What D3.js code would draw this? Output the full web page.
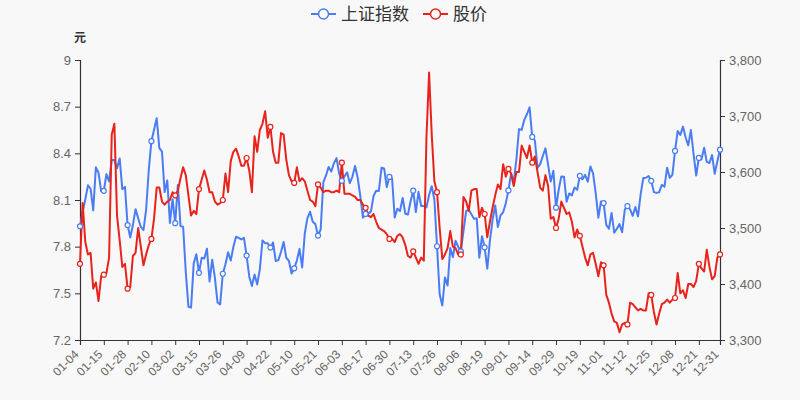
<!DOCTYPE html>
<html>
<head>
<meta charset="utf-8">
<script src="https://cdn.jsdelivr.net/npm/d3@7"></script>
<style>
  html, body { margin: 0; padding: 0; background: #f8f8f8; }
  svg { display: block; }
  text { font-family: "Liberation Sans", Arial, "Noto Sans CJK SC", sans-serif; }
</style>
</head>
<body>
<svg id="chart" width="800" height="400"></svg>
<script>
// ---------------- data ----------------
const dates = [
  "01-04","01-05","01-06","01-07","01-08","01-11","01-12","01-13","01-14","01-15","01-18","01-19","01-20","01-21","01-22","01-25","01-26","01-27","01-28","01-29",
  "02-01","02-02","02-03","02-04","02-05","02-08","02-09","02-10","02-18","02-19","02-22","02-23","02-24","02-25","02-26",
  "03-01","03-02","03-03","03-04","03-05","03-08","03-09","03-10","03-11","03-12","03-15","03-16","03-17","03-18","03-19","03-22","03-23","03-24","03-25","03-26","03-29","03-30","03-31",
  "04-01","04-02","04-06","04-07","04-08","04-09","04-12","04-13","04-14","04-15","04-16","04-19","04-20","04-21","04-22","04-23","04-26","04-27","04-28","04-29","04-30",
  "05-06","05-07","05-10","05-11","05-12","05-13","05-14","05-17","05-18","05-19","05-20","05-21","05-24","05-25","05-26","05-27","05-28","05-31",
  "06-01","06-02","06-03","06-04","06-07","06-08","06-09","06-10","06-11","06-15","06-16","06-17","06-18","06-21","06-22","06-23","06-24","06-25","06-28","06-29","06-30",
  "07-01","07-02","07-05","07-06","07-07","07-08","07-09","07-12","07-13","07-14","07-15","07-16","07-19","07-20","07-21","07-22","07-23","07-26","07-27","07-28","07-29","07-30",
  "08-02","08-03","08-04","08-05","08-06","08-09","08-10","08-11","08-12","08-13","08-16","08-17","08-18","08-19","08-20","08-23","08-24","08-25","08-26","08-27","08-30","08-31",
  "09-01","09-02","09-03","09-06","09-07","09-08","09-09","09-10","09-13","09-14","09-15","09-16","09-17","09-22","09-23","09-24","09-27","09-28","09-29","09-30",
  "10-08","10-11","10-12","10-13","10-14","10-15","10-18","10-19","10-20","10-21","10-22","10-25","10-26","10-27","10-28","10-29",
  "11-01","11-02","11-03","11-04","11-05","11-08","11-09","11-10","11-11","11-12","11-15","11-16","11-17","11-18","11-19","11-22","11-23","11-24","11-25","11-26","11-29","11-30",
  "12-01","12-02","12-03","12-06","12-07","12-08","12-09","12-10","12-13","12-14","12-15","12-16","12-17","12-20","12-21","12-22","12-23","12-24","12-27","12-28","12-29","12-30","12-31"
];

const indexValues = [
  3502.96,3528.68,3550.88,3576.20,3570.11,3531.50,3608.34,3598.65,3565.90,3566.38,3596.22,3583.09,3621.26,3621.39,3606.75,3624.24,3569.43,3573.34,3505.18,3483.07,
  3505.28,3533.68,3517.31,3501.86,3496.33,3532.44,3603.49,3655.09,3675.36,3696.17,3642.44,3636.36,3564.08,3585.05,3509.08,
  3551.40,3508.59,3576.90,3503.49,3501.99,3421.41,3359.29,3357.74,3436.83,3453.08,3419.95,3446.73,3445.55,3463.07,3404.66,3443.44,3411.51,3367.06,3363.59,3418.33,3435.30,3456.68,3441.91,
  3466.33,3484.39,3482.45,3479.63,3482.55,3450.68,3412.95,3396.47,3416.75,3398.99,3426.62,3477.55,3472.94,3472.93,3465.11,3474.17,3441.17,3442.61,3457.07,3474.90,3446.86,
  3441.28,3418.87,3427.99,3441.85,3462.75,3429.54,3490.38,3517.62,3529.01,3510.96,3506.94,3486.56,3497.28,3581.34,3593.36,3608.85,3600.78,3615.48,
  3624.71,3597.14,3584.22,3591.84,3599.54,3580.11,3591.40,3610.86,3589.75,3556.56,3518.33,3525.10,3525.60,3529.18,3557.41,3566.65,3566.22,3607.56,3606.37,3573.18,3591.20,
  3588.78,3518.76,3534.32,3530.26,3553.72,3525.50,3524.09,3547.84,3566.66,3528.50,3564.59,3539.30,3539.12,3536.79,3559.00,3574.73,3550.40,3467.44,3381.18,3361.59,3411.72,3397.36,
  3464.29,3447.99,3477.22,3466.56,3458.23,3494.63,3529.93,3532.62,3524.74,3516.30,3517.34,3446.98,3485.29,3465.55,3427.33,3477.13,3514.47,3540.38,3501.66,3522.16,3528.15,3543.94,
  3567.10,3597.04,3581.73,3621.86,3676.59,3675.19,3693.13,3703.11,3715.37,3662.60,3656.22,3607.09,3613.97,3628.49,3642.22,3613.07,3582.83,3602.22,3536.29,3568.17,
  3592.17,3591.71,3546.94,3561.76,3558.28,3572.37,3568.14,3593.15,3587.00,3594.78,3582.60,3609.86,3597.64,3562.31,3518.42,3547.34,
  3544.48,3505.63,3498.54,3526.87,3491.57,3498.63,3507.00,3492.46,3532.79,3539.10,3533.30,3521.79,3537.37,3520.71,3560.37,3589.09,3589.75,3592.70,3584.18,3564.09,3562.70,3563.89,
  3576.89,3573.84,3607.43,3589.31,3595.09,3637.57,3673.04,3666.35,3681.08,3661.53,3647.63,3675.02,3632.36,3593.60,3625.13,3622.62,3643.34,3618.05,3615.97,3630.11,3597.00,3619.19,3639.78
];

const priceValues = [
  7.69,8.08,7.83,7.75,7.76,7.53,7.57,7.45,7.61,7.62,7.63,7.73,8.52,8.59,8.00,7.84,7.67,7.69,7.53,7.54,
  7.74,7.76,7.92,7.80,7.68,7.75,7.81,7.85,7.98,8.18,8.18,8.09,8.07,8.09,8.10,
  8.15,8.13,8.16,8.24,8.31,8.26,8.13,8.00,8.03,8.01,8.17,8.23,8.29,8.23,8.15,8.15,8.09,8.07,8.08,8.10,8.27,8.15,8.35,
  8.41,8.43,8.38,8.32,8.32,8.37,8.29,8.15,8.51,8.41,8.55,8.59,8.67,8.50,8.57,8.41,8.34,8.34,8.53,8.52,8.36,
  8.26,8.22,8.21,8.31,8.22,8.24,8.22,8.16,8.10,8.09,8.06,8.20,8.18,8.15,8.16,8.16,8.15,8.15,
  8.16,8.15,8.34,8.14,8.14,8.14,8.13,8.12,8.10,8.10,8.07,8.05,8.00,7.99,8.01,7.96,7.92,7.91,7.90,7.88,7.85,
  7.85,7.83,7.87,7.88,7.86,7.81,7.74,7.73,7.77,7.73,7.69,7.73,7.71,8.50,8.92,8.52,8.22,8.15,7.92,7.72,7.75,7.79,
  7.90,7.80,7.79,7.75,7.75,8.12,8.09,8.03,8.16,8.17,8.17,7.99,8.05,8.01,7.86,7.96,8.05,8.13,8.20,8.17,8.33,8.25,
  8.30,8.27,8.19,8.28,8.28,8.45,8.41,8.37,8.45,8.34,8.38,8.28,8.18,8.16,8.26,8.19,7.98,7.99,7.92,7.98,
  8.09,8.05,8.01,8.02,7.96,7.86,7.91,7.87,7.80,7.73,7.68,7.75,7.76,7.69,7.61,7.70,
  7.68,7.49,7.44,7.37,7.32,7.31,7.25,7.30,7.31,7.30,7.44,7.43,7.41,7.39,7.40,7.39,7.39,7.50,7.49,7.38,7.30,7.37,
  7.43,7.44,7.46,7.44,7.46,7.47,7.63,7.50,7.52,7.47,7.56,7.56,7.54,7.58,7.69,7.66,7.64,7.78,7.67,7.59,7.61,7.73,7.75
];

const seriesNames = ["上证指数", "股价"];
const leftTicks = [7.2, 7.5, 7.8, 8.1, 8.4, 8.7, 9];
const rightTicks = [3300, 3400, 3500, 3600, 3700, 3800];
const leftUnit = "元";

// ---------------- layout ----------------
const W = 800, H = 400;
const M = { left: 80, right: 80, top: 60, bottom: 60 };
const colors = { index: "#4a7cf4", price: "#e8231b" };

const svg = d3.select("#chart");
svg.append("rect").attr("width", W).attr("height", H).attr("fill", "#f8f8f8");

const x = d3.scalePoint().domain(dates).range([M.left, W - M.right]);
const yL = d3.scaleLinear().domain([7.2, 9]).range([H - M.bottom, M.top]);
const yR = d3.scaleLinear().domain([3300, 3800]).range([H - M.bottom, M.top]);

const axisColor = "#333";
const labelColor = "#666";

// left axis
const gL = svg.append("g").attr("transform", `translate(${M.left},0)`)
  .call(d3.axisLeft(yL).tickValues(leftTicks).tickSize(5).tickPadding(4)
    .tickFormat(d => String(+d.toFixed(1))));
// right axis
const gR = svg.append("g").attr("transform", `translate(${W - M.right},0)`)
  .call(d3.axisRight(yR).tickValues(rightTicks).tickSize(5).tickPadding(4)
    .tickFormat(d3.format(",")));
// x axis
const xTickVals = dates.filter((d, i) => i % 9 === 0 || i === dates.length - 1);
const gX = svg.append("g").attr("transform", `translate(0,${H - M.bottom})`)
  .call(d3.axisBottom(x).tickValues(xTickVals).tickSize(5).tickPadding(3));

[gL, gR, gX].forEach(g => {
  g.select(".domain").attr("stroke", axisColor).attr("stroke-width", 1.2);
  g.selectAll(".tick line").attr("stroke", axisColor).attr("stroke-width", 1);
  g.selectAll(".tick text").attr("fill", labelColor).attr("font-size", 13);
});
gX.selectAll(".tick text")
  .attr("font-size", 12)
  .attr("text-anchor", "end")
  .attr("dy", "0.35em")
  .attr("transform", "translate(-4,12) rotate(-45)")
  .attr("y", 0).attr("x", 0);

// axis unit
svg.append("text").attr("x", 80).attr("y", 42).attr("text-anchor", "middle")
  .attr("font-size", 12).attr("font-weight", "bold").attr("fill", "#333")
  .style("font-family", "'Noto Sans CJK SC', sans-serif")
  .text(leftUnit);

// lines
const lineIdx = d3.line().x((d, i) => x(dates[i])).y(d => yR(d));
const linePrice = d3.line().x((d, i) => x(dates[i])).y(d => yL(d));

svg.append("path").datum(indexValues).attr("d", lineIdx)
  .attr("fill", "none").attr("stroke", colors.index).attr("stroke-width", 2)
  .attr("stroke-linejoin", "round");
svg.append("path").datum(priceValues).attr("d", linePrice)
  .attr("fill", "none").attr("stroke", colors.price).attr("stroke-width", 2)
  .attr("stroke-linejoin", "round");

const markIdx = d3.range(dates.length).filter(i => i % 9 === 0 || i === dates.length - 1);
svg.append("g").selectAll("circle").data(markIdx).join("circle")
  .attr("cx", i => x(dates[i])).attr("cy", i => yR(indexValues[i])).attr("r", 2.5)
  .attr("fill", "#fff").attr("stroke", colors.index).attr("stroke-width", 1.2);
svg.append("g").selectAll("circle").data(markIdx).join("circle")
  .attr("cx", i => x(dates[i])).attr("cy", i => yL(priceValues[i])).attr("r", 2.5)
  .attr("fill", "#fff").attr("stroke", colors.price).attr("stroke-width", 1.2);

// legend
const legend = svg.append("g").attr("transform", "translate(0,14)");
const legendItems = [
  { name: seriesNames[0], color: colors.index, x: 311 },
  { name: seriesNames[1], color: colors.price, x: 423 }
];
legendItems.forEach(it => {
  const g = legend.append("g").attr("transform", `translate(${it.x},0)`);
  g.append("line").attr("x1", 0).attr("x2", 25).attr("y1", 0).attr("y2", 0)
    .attr("stroke", it.color).attr("stroke-width", 2);
  g.append("circle").attr("cx", 12.5).attr("cy", 0).attr("r", 5)
    .attr("fill", "#fff").attr("stroke", it.color).attr("stroke-width", 1.5);
  g.append("text").attr("x", 30).attr("y", 0).attr("dy", "0.35em")
    .attr("font-size", 17).attr("fill", "#333")
    .style("font-family", "'Noto Sans CJK SC', sans-serif")
    .text(it.name);
});
</script>
</body>
</html>
